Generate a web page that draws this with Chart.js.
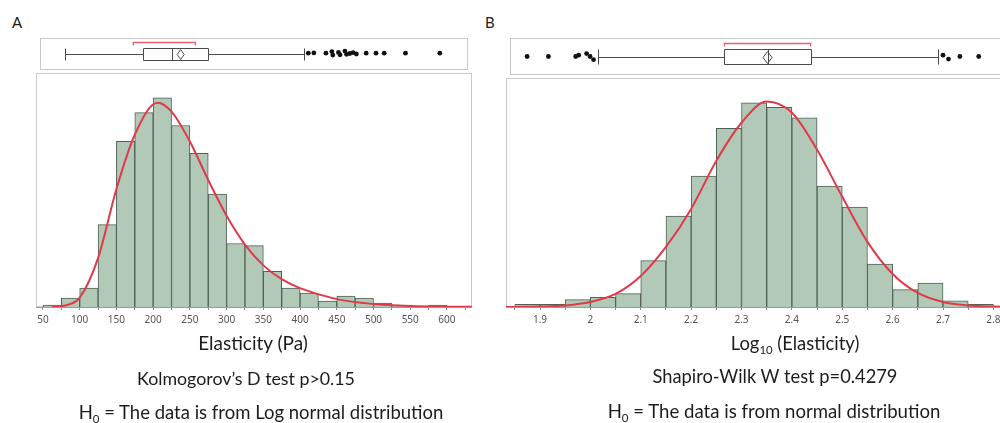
<!DOCTYPE html>
<html>
<head>
<meta charset="utf-8">
<script src="https://cdn.jsdelivr.net/npm/chart.js@4.4.1/dist/chart.umd.min.js"></script>
<style>
  body { margin: 0; width: 1000px; height: 423px; overflow: hidden; position: relative; background: #fff; font-family: Lato, "Open Sans", sans-serif; color: #1c1c1c; }
  canvas { position: absolute; }
  .lbl { position: absolute; width: 500px; text-align: center; white-space: nowrap; line-height: 24px; }
  .lbl sub { font-size: 62%; line-height: 0; vertical-align: -0.35em; }
  .tag { position: absolute; font-size: 15px; line-height: 18px; }
</style>
</head>
<body>
<div class="tag" style="left:12px;top:13px">A</div>
<div class="tag" style="left:485px;top:13px">B</div>

<canvas id="stripA" width="436" height="40" style="left:36px;top:34px"></canvas>
<canvas id="histA" width="436" height="260" style="left:36px;top:73px"></canvas>
<canvas id="stripB" width="502" height="45" style="left:506px;top:34px"></canvas>
<canvas id="histB" width="502" height="255" style="left:506px;top:78px"></canvas>

<div class="lbl" style="left:3px;top:331px;font-size:19px">Elasticity (Pa)</div>
<div class="lbl" style="left:-4px;top:366px;font-size:17.8px">Kolmogorov’s D test p&gt;0.15</div>
<div class="lbl" style="left:11px;top:400px;font-size:18.5px">H<sub>0</sub> = The data is from Log normal distribution</div>
<div class="lbl" style="left:545px;top:331px;font-size:18.4px">Log<sub>10</sub> (Elasticity)</div>
<div class="lbl" style="left:525px;top:364px;font-size:18.3px">Shapiro-Wilk W test p=0.4279</div>
<div class="lbl" style="left:524px;top:399px;font-size:18.6px">H<sub>0</sub> = The data is from normal distribution</div>

<script>
// ---- panel A : Elasticity (Pa) ----
const binStartA = [50, 75, 100, 125, 150, 175, 200, 225, 250, 275, 300, 325, 350, 375, 400, 425, 450, 475, 500, 525, 550, 575];
const binPctA = [0.15, 0.66, 1.39, 6.07, 12.21, 14.33, 15.42, 13.38, 11.33, 8.33, 4.68, 4.53, 2.63, 1.39, 1.02, 0.44, 0.80, 0.66, 0.29, 0.15, 0.04, 0.15];
const binWidthA = 25;
const curveXA = [62, 80, 100, 125, 150, 175, 206, 225, 250, 275, 300, 325, 350, 375, 400, 450, 500, 550, 600, 634];
const curveYA = [0, 0.11, 0.69, 3.6, 8.7, 12.7, 15.06, 14.4, 12.2, 9.36, 6.73, 4.6, 3.07, 2.05, 1.39, 0.58, 0.22, 0.07, 0.02, 0.01];
const boxA = [74.5, 183.8, 224, 274, 407];   // whisker, Q1, median, Q3, whisker
const meanA = 235.6;
const bracketA = [170, 256];
const outlierXA = [412.6, 420.3, 437.1, 445.3, 446.6, 454.4, 456.6, 463.4, 465.7, 470.2, 474.8, 479.3, 492.9, 506.5, 517.9, 547.4, 595];
const outlierJitA = [0.05, 0.07, 0.05, 0.15, -0.07, 0.1, -0.05, 0.18, -0.02, 0.03, 0.08, 0, 0.05, 0.05, 0.05, 0.05, 0.05];
const tickLabelsA = ['50', '100', '150', '200', '250', '300', '350', '400', '450', '500', '550', '600'];

// ---- panel B : Log10 (Elasticity) ----
const binStartB = [1.85, 1.9, 1.95, 2.0, 2.05, 2.1, 2.15, 2.2, 2.25, 2.3, 2.35, 2.4, 2.45, 2.5, 2.55, 2.6, 2.65, 2.7, 2.75];
const binPctB = [0.19, 0.19, 0.53, 0.70, 0.96, 3.34, 6.54, 9.42, 12.85, 14.70, 14.37, 13.62, 8.70, 7.19, 3.08, 1.25, 1.73, 0.45, 0.19];
const binWidthB = 0.05;
const curveXB = [1.83, 1.9, 1.95, 2.0, 2.05, 2.1, 2.15, 2.2, 2.25, 2.3, 2.35, 2.4, 2.45, 2.5, 2.55, 2.6, 2.65, 2.7, 2.75, 2.8, 2.83];
const curveYB = [0, 0.03, 0.11, 0.36, 0.94, 2.23, 4.32, 7.06, 10.52, 13.26, 14.78, 13.98, 11.32, 7.93, 4.69, 2.38, 1.01, 0.36, 0.11, 0.03, 0.01];
const boxB = [2.011, 2.265, 2.352, 2.439, 2.696];
const meanB = 2.352;
const bracketB = [2.265, 2.439];
const outlierXB = [1.867, 1.910, 1.965, 1.971, 1.987, 1.994, 2.001, 2.706, 2.717, 2.740, 2.778];
const outlierJitB = [0, 0, 0, 0.07, 0.16, 0, -0.17, 0.07, -0.14, 0, 0];
const tickLabelsB = ['1.9', '2', '2.1', '2.2', '2.3', '2.4', '2.5', '2.6', '2.7', '2.8'];

const BAR_FILL = '#b3c9b7';
const BAR_EDGE = '#4f6054';
const CURVE = '#e03a4a';
const FRAME = '#c9c9c9';

// frame around the plot area
const framePlugin = {
  id: 'frame',
  beforeDatasetsDraw(chart) {
    const a = chart.chartArea, ctx = chart.ctx;
    ctx.save();
    ctx.strokeStyle = FRAME;
    ctx.lineWidth = 1;
    ctx.strokeRect(a.left + 0.5, a.top + 0.5, a.width - 1, a.height - 1);
    ctx.restore();
  }
};

// box, whiskers, mean diamond and shortest-half bracket
const boxPlugin = {
  id: 'boxStrip',
  beforeDatasetsDraw(chart, args, opts) {
    const ctx = chart.ctx, x = chart.scales.x, y = chart.scales.y;
    const b = opts.box.map(v => Math.round(x.getPixelForValue(v)) + 0.5);
    const yc = Math.round(y.getPixelForValue(0)) + 0.5;
    const yt = Math.round(y.getPixelForValue(0.38)) + 0.5;
    const yb = Math.round(y.getPixelForValue(-0.38)) + 0.5;
    ctx.save();
    ctx.strokeStyle = '#4a4a4a';
    ctx.lineWidth = 1;
    ctx.beginPath();
    ctx.moveTo(b[0], yc); ctx.lineTo(b[1], yc);
    ctx.moveTo(b[3], yc); ctx.lineTo(b[4], yc);
    ctx.moveTo(b[0], yt); ctx.lineTo(b[0], yb);
    ctx.moveTo(b[4], yt); ctx.lineTo(b[4], yb);
    ctx.moveTo(b[2], yt); ctx.lineTo(b[2], yb);
    ctx.rect(b[1], yt, b[3] - b[1], yb - yt);
    ctx.stroke();

    // mean diamond
    const m = x.getPixelForValue(opts.mean);
    const dw = opts.dw, dh = opts.dh;
    ctx.beginPath();
    ctx.moveTo(m, yc - dh); ctx.lineTo(m + dw, yc); ctx.lineTo(m, yc + dh); ctx.lineTo(m - dw, yc);
    ctx.closePath();
    ctx.stroke();

    // bracket
    const br = opts.bracket.map(v => x.getPixelForValue(v));
    const yk = Math.round(y.getPixelForValue(0.72)) + 0.5;
    ctx.strokeStyle = '#e8606c';
    ctx.lineWidth = 1.3;
    ctx.beginPath();
    ctx.moveTo(br[0], yk + 3); ctx.lineTo(br[0], yk); ctx.lineTo(br[1], yk); ctx.lineTo(br[1], yk + 3);
    ctx.stroke();
    ctx.restore();
  }
};

function makeStrip(id, xmin, xmax, box, mean, bracket, outX, outJit, dw, dh) {
  new Chart(document.getElementById(id), {
    type: 'scatter',
    data: {
      datasets: [{
        data: outX.map((v, i) => ({ x: v, y: outJit[i] })),
        pointRadius: 2.4,
        pointBackgroundColor: '#111',
        pointBorderWidth: 0
      }]
    },
    options: {
      responsive: false,
      animation: false,
      events: [],
      layout: { padding: 0 },
      plugins: {
        legend: { display: false },
        tooltip: { enabled: false },
        boxStrip: { box: box, mean: mean, bracket: bracket, dw: dw, dh: dh }
      },
      scales: {
        x: { type: 'linear', min: xmin, max: xmax, display: false },
        y: { min: -1, max: 1, display: false }
      }
    },
    plugins: [framePlugin, boxPlugin]
  });
}

function makeHist(id, xmin, xmax, starts, pct, width, cx, cy, ymax, tickVals, tickLabels) {
  const labelOf = v => {
    const s = String(Number(v.toFixed(2)));
    return tickLabels.includes(s) ? s : '';
  };
  new Chart(document.getElementById(id), {
    type: 'bar',
    data: {
      datasets: [{
        type: 'line',
        data: cx.map((v, i) => ({ x: v, y: cy[i] })),
        borderColor: CURVE,
        borderWidth: 2,
        pointRadius: 0,
        cubicInterpolationMode: 'monotone',
        order: 0
      }, {
        data: starts.map((v, i) => ({ x: v + width / 2, y: pct[i] })),
        backgroundColor: BAR_FILL,
        borderColor: BAR_EDGE,
        borderWidth: 1,
        borderSkipped: 'bottom',
        barPercentage: 1,
        categoryPercentage: 1,
        order: 1
      }]
    },
    options: {
      responsive: false,
      animation: false,
      events: [],
      layout: { padding: 0 },
      plugins: { legend: { display: false }, tooltip: { enabled: false } },
      scales: {
        x: {
          type: 'linear',
          min: xmin,
          max: xmax,
          offset: false,
          grid: { display: true, offset: false, drawOnChartArea: false, drawTicks: true, tickLength: 3, color: '#8a8a8a' },
          border: { display: true, color: '#9a9a9a' },
          ticks: {
            autoSkip: false,
            maxRotation: 0,
            includeBounds: false,
            padding: 4,
            color: '#555',
            font: { family: 'Noto Sans', size: 10 },
            callback: v => labelOf(v)
          },
          afterBuildTicks: scale => { scale.ticks = tickVals.map(v => ({ value: v })); },
          afterFit: scale => { scale.height = 26; scale.paddingLeft = 0; scale.paddingRight = 0; }
        },
        y: { min: 0, max: ymax, display: false }
      }
    },
    plugins: [framePlugin]
  });
}

// tick positions every bin edge, labels only where listed
const tickValsA = [];
for (let v = 50; v <= 625; v += 25) tickValsA.push(v);
const tickValsB = [];
for (let k = 37; k <= 56; k++) tickValsB.push(Number((k * 0.05).toFixed(2)));

makeStrip('stripA', 40.5, 634.1, boxA, meanA, bracketA, outlierXA, outlierJitA, 3.5, 5);
makeHist('histA', 40.5, 634.1, binStartA, binPctA, binWidthA, curveXA, curveYA, 17.25, tickValsA, tickLabelsA);
makeStrip('stripB', 1.8325, 2.829, boxB, meanB, bracketB, outlierXB, outlierJitB, 4.5, 6);
makeHist('histB', 1.8325, 2.829, binStartB, binPctB, binWidthB, curveXB, curveYB, 16.48, tickValsB, tickLabelsB);
</script>
</body>
</html>
